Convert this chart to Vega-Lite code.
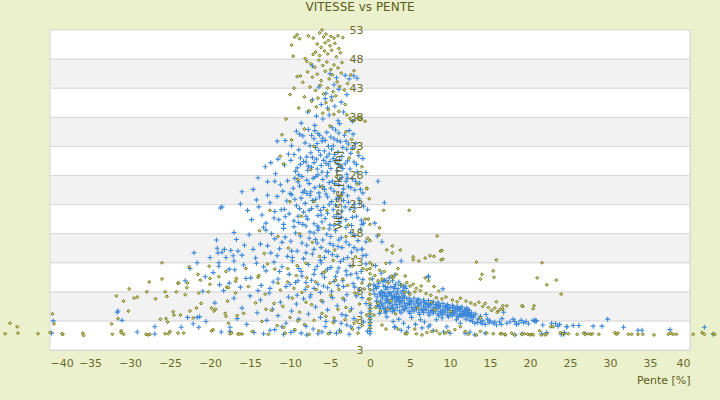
{
  "$schema": "https://vega.github.io/schema/vega-lite/v6.json",
  "width": 640,
  "height": 320,
  "autosize": {"type": "none"},
  "padding": {"left": 50, "top": 30, "right": 30, "bottom": 50},
  "background": "#ebf0cd",
  "title": {
    "text": "VITESSE vs PENTE",
    "fontSize": 12,
    "fontWeight": "normal",
    "color": "#5d5d20",
    "anchor": "middle",
    "frame": "group",
    "dx": -10,
    "baseline": "alphabetic",
    "offset": 1
  },
  "config": {
    "font": "DejaVu Sans",
    "view": {"stroke": "#d9d9d9", "fill": "#ffffff"},
    "axis": {
      "labelColor": "#6b6b2b",
      "titleColor": "#5d5d20",
      "labelFontSize": 11,
      "titleFontSize": 11,
      "titleFontWeight": "normal",
      "ticks": false,
      "domain": false,
      "grid": false,
      "labelOverlap": false
    }
  },
  "datasets": {
    "bands": [
      {"lo": -2, "hi": 3, "c": "w"}, {"lo": 3, "hi": 8, "c": "g"},
      {"lo": 8, "hi": 13, "c": "w"}, {"lo": 13, "hi": 18, "c": "g"},
      {"lo": 18, "hi": 23, "c": "w"}, {"lo": 23, "hi": 28, "c": "g"},
      {"lo": 28, "hi": 33, "c": "w"}, {"lo": 33, "hi": 38, "c": "g"},
      {"lo": 38, "hi": 43, "c": "w"}, {"lo": 43, "hi": 48, "c": "g"},
      {"lo": 48, "hi": 53, "c": "w"}
    ],
    "b": [
      {"p":-5.0,"v":45.5},{"p":-4.2,"v":44.8},{"p":-3.1,"v":45.2},{"p":-2.6,"v":44.6},{"p":-6.4,"v":43.2},{"p":-5.5,"v":42.1},{"p":-4.8,"v":41.5},{"p":-3.9,"v":42.8},{"p":-7.2,"v":41.0},{"p":-6.1,"v":40.2},
      {"p":-5.3,"v":39.6},{"p":-4.4,"v":39.9},{"p":-3.6,"v":40.6},{"p":-2.9,"v":41.9},{"p":-7.8,"v":38.9},{"p":-6.7,"v":38.2},{"p":-5.9,"v":37.7},{"p":-5.1,"v":38.4},{"p":-4.0,"v":37.4},{"p":-3.3,"v":38.9},
      {"p":-2.2,"v":37.3},{"p":-8.6,"v":37.0},{"p":-6.9,"v":36.6},{"p":-4.7,"v":36.2},{"p":-3.8,"v":36.9},{"p":-5.6,"v":41.2},{"p":-4.5,"v":43.6},{"p":-7.2,"v":46.8},{"p":-2.0,"v":45.1},{"p":-1.6,"v":44.7},
      {"p":-9.2,"v":35.6},{"p":-8.4,"v":34.8},{"p":-7.7,"v":35.9},{"p":-7.0,"v":34.3},{"p":-6.5,"v":35.2},{"p":-6.0,"v":33.9},{"p":-5.4,"v":35.4},{"p":-4.9,"v":34.6},{"p":-4.3,"v":35.8},{"p":-3.7,"v":33.8},
      {"p":-3.2,"v":34.9},{"p":-2.7,"v":33.4},{"p":-2.1,"v":35.1},{"p":-9.8,"v":33.1},{"p":-8.9,"v":32.4},{"p":-8.1,"v":33.6},{"p":-7.4,"v":31.9},{"p":-6.8,"v":32.8},{"p":-6.2,"v":31.5},{"p":-5.7,"v":32.2},
      {"p":-5.1,"v":31.7},{"p":-4.6,"v":33.1},{"p":-4.0,"v":32.0},{"p":-3.5,"v":31.3},{"p":-2.9,"v":32.5},{"p":-2.4,"v":31.8},{"p":-1.8,"v":33.5},{"p":-11.6,"v":33.9},{"p":-10.6,"v":34.0},{"p":-7.9,"v":31.2},
      {"p":-6.6,"v":33.5},{"p":-5.9,"v":34.4},{"p":-5.2,"v":33.0},{"p":-4.8,"v":32.5},{"p":-4.1,"v":34.0},{"p":-3.4,"v":32.8},{"p":-1.4,"v":31.4},{"p":-8.7,"v":31.0},{"p":-9.5,"v":31.6},{"p":-6.3,"v":34.9},
      {"p":-8.8,"v":35.1},{"p":-7.3,"v":34.9},{"p":-6.9,"v":35.7},{"p":-5.6,"v":34.0},{"p":-4.5,"v":34.3},{"p":-3.9,"v":35.3},{"p":-2.6,"v":35.7},{"p":-7.5,"v":33.1},{"p":-6.4,"v":32.3},{"p":-5.4,"v":31.2},
      {"p":-4.4,"v":31.6},{"p":-3.0,"v":33.9},{"p":-2.2,"v":32.7},{"p":-8.3,"v":30.4},{"p":-7.7,"v":29.6},{"p":-7.2,"v":31.1},{"p":-6.6,"v":29.1},{"p":-5.8,"v":30.6},{"p":-5.2,"v":29.8},{"p":-4.6,"v":30.9},
      {"p":-3.8,"v":30.7},{"p":-3.4,"v":29.2},{"p":-2.8,"v":30.5},{"p":-1.7,"v":29.9},{"p":-9.1,"v":29.3},{"p":-10.2,"v":31.7},
      {"p":-14.0,"v":27.6},{"p":-13.1,"v":29.5},{"p":-12.4,"v":30.2},{"p":-11.8,"v":28.3},{"p":-11.2,"v":26.4},{"p":-10.7,"v":29.8},{"p":-10.3,"v":27.1},{"p":-9.9,"v":30.6},{"p":-9.6,"v":25.8},{"p":-9.3,"v":28.7},
      {"p":-9.0,"v":26.9},{"p":-8.7,"v":29.9},{"p":-8.5,"v":27.8},{"p":-8.2,"v":25.4},{"p":-8.0,"v":30.3},{"p":-7.8,"v":28.9},{"p":-7.6,"v":26.6},{"p":-7.3,"v":29.4},{"p":-7.1,"v":27.5},{"p":-6.9,"v":25.9},
      {"p":-6.7,"v":30.8},{"p":-6.5,"v":28.1},{"p":-6.3,"v":26.2},{"p":-6.1,"v":29.7},{"p":-5.9,"v":27.3},{"p":-5.7,"v":25.6},{"p":-5.5,"v":30.1},{"p":-5.3,"v":28.5},{"p":-5.1,"v":26.8},{"p":-4.9,"v":29.2},
      {"p":-4.7,"v":27.0},{"p":-4.5,"v":25.3},{"p":-4.3,"v":30.5},{"p":-4.1,"v":28.8},{"p":-3.9,"v":26.4},{"p":-3.7,"v":29.6},{"p":-3.5,"v":27.7},{"p":-3.3,"v":25.7},{"p":-3.1,"v":30.0},{"p":-2.9,"v":28.2},
      {"p":-2.7,"v":26.1},{"p":-2.5,"v":29.1},{"p":-2.2,"v":27.4},{"p":-1.9,"v":25.5},{"p":-1.6,"v":28.6},{"p":-1.3,"v":26.7},{"p":-0.9,"v":30.9},{"p":-16.0,"v":25.2},{"p":-14.6,"v":25.6},{"p":-12.8,"v":26.9},
      {"p":-10.0,"v":24.9},{"p":-8.9,"v":28.1},{"p":-7.0,"v":30.2},{"p":-6.0,"v":28.6},{"p":-5.0,"v":30.4},{"p":-4.0,"v":29.9},{"p":-3.0,"v":27.0},{"p":-2.0,"v":30.3},{"p":-0.5,"v":28.5},{"p":-11.5,"v":30.8},
      {"p":-9.4,"v":27.5},{"p":-8.8,"v":26.2},{"p":-8.4,"v":25.1},{"p":-7.9,"v":27.2},{"p":-7.4,"v":25.2},{"p":-6.8,"v":27.8},{"p":-6.4,"v":25.0},{"p":-5.9,"v":26.1},{"p":-5.4,"v":27.9},{"p":-4.9,"v":25.8},
      {"p":-4.4,"v":26.6},{"p":-3.8,"v":27.3},{"p":-3.4,"v":25.0},{"p":-2.8,"v":27.5},{"p":-2.4,"v":25.9},{"p":-1.8,"v":27.0},{"p":-1.2,"v":25.6},{"p":-10.9,"v":25.3},{"p":-11.9,"v":27.0},{"p":-12.8,"v":24.6},
      {"p":-18.7,"v":22.4},{"p":-18.5,"v":22.6},{"p":-15.3,"v":22.0},{"p":-14.2,"v":23.8},{"p":-13.5,"v":21.2},{"p":-13.0,"v":19.8},{"p":-12.5,"v":23.3},{"p":-12.0,"v":20.7},{"p":-11.6,"v":24.4},{"p":-11.1,"v":22.1},
      {"p":-10.8,"v":19.6},{"p":-10.4,"v":23.6},{"p":-10.1,"v":21.4},{"p":-9.8,"v":24.7},{"p":-9.5,"v":20.2},{"p":-9.2,"v":22.8},{"p":-8.9,"v":19.9},{"p":-8.6,"v":24.1},{"p":-8.3,"v":21.7},{"p":-8.1,"v":23.2},
      {"p":-7.8,"v":20.5},{"p":-7.5,"v":24.6},{"p":-7.3,"v":22.3},{"p":-7.0,"v":19.7},{"p":-6.8,"v":23.9},{"p":-6.5,"v":21.1},{"p":-6.3,"v":24.3},{"p":-6.0,"v":20.0},{"p":-5.8,"v":22.5},{"p":-5.5,"v":24.8},
      {"p":-5.3,"v":21.5},{"p":-5.0,"v":19.5},{"p":-4.8,"v":23.5},{"p":-4.5,"v":20.9},{"p":-4.3,"v":22.9},{"p":-4.0,"v":24.2},{"p":-3.8,"v":19.8},{"p":-3.5,"v":21.9},{"p":-3.3,"v":23.7},{"p":-3.0,"v":20.4},
      {"p":-2.8,"v":24.5},{"p":-2.5,"v":22.2},{"p":-2.3,"v":19.4},{"p":-2.0,"v":23.0},{"p":-1.7,"v":21.0},{"p":-1.4,"v":24.0},{"p":-1.1,"v":20.3},{"p":-0.8,"v":22.7},{"p":-9.0,"v":21.0},{"p":-7.6,"v":22.0},
      {"p":-6.2,"v":22.0},{"p":-5.1,"v":23.0},{"p":-4.1,"v":21.3},{"p":-3.1,"v":22.6},{"p":-7.9,"v":24.9},{"p":-11.9,"v":21.8},{"p":-14.8,"v":20.4},{"p":-16.2,"v":23.1},{"p":-6.6,"v":19.3},{"p":-3.9,"v":20.6},
      {"p":-2.2,"v":20.8},{"p":-5.6,"v":20.6},{"p":-8.4,"v":19.6},{"p":-10.6,"v":20.9},{"p":-0.3,"v":22.1},{"p":-1.0,"v":19.6},
      {"p":-9.4,"v":23.9},{"p":-8.8,"v":22.3},{"p":-8.0,"v":21.0},{"p":-7.2,"v":23.7},{"p":-6.6,"v":22.7},{"p":-6.1,"v":21.2},{"p":-5.3,"v":24.3},{"p":-4.6,"v":22.1},{"p":-4.2,"v":23.9},{"p":-3.6,"v":20.8},
      {"p":-2.7,"v":23.4},{"p":-1.9,"v":22.4},{"p":-1.3,"v":23.2},{"p":-10.7,"v":22.2},{"p":-11.4,"v":20.4},{"p":-13.9,"v":22.6},
      {"p":-20.0,"v":13.9},{"p":-19.2,"v":16.9},{"p":-17.4,"v":15.1},{"p":-16.0,"v":14.3},{"p":-15.1,"v":17.8},{"p":-14.3,"v":13.8},{"p":-13.7,"v":16.2},{"p":-13.0,"v":18.6},{"p":-12.4,"v":14.7},{"p":-11.9,"v":17.1},
      {"p":-11.3,"v":15.4},{"p":-10.8,"v":18.9},{"p":-10.3,"v":14.1},{"p":-9.9,"v":16.7},{"p":-9.5,"v":19.2},{"p":-9.1,"v":15.0},{"p":-8.7,"v":17.6},{"p":-8.3,"v":13.7},{"p":-7.9,"v":16.0},{"p":-7.5,"v":18.3},
      {"p":-7.2,"v":14.5},{"p":-6.8,"v":17.0},{"p":-6.4,"v":19.0},{"p":-6.1,"v":15.6},{"p":-5.7,"v":13.9},{"p":-5.4,"v":17.9},{"p":-5.0,"v":16.3},{"p":-4.7,"v":14.4},{"p":-4.3,"v":18.5},{"p":-4.0,"v":15.8},
      {"p":-3.6,"v":17.3},{"p":-3.3,"v":13.6},{"p":-3.0,"v":19.1},{"p":-2.6,"v":16.1},{"p":-2.3,"v":14.8},{"p":-1.9,"v":17.7},{"p":-1.6,"v":15.2},{"p":-1.2,"v":18.8},{"p":-0.9,"v":14.2},{"p":-0.5,"v":16.6},
      {"p":-8.0,"v":19.3},{"p":-6.6,"v":16.4},{"p":-5.2,"v":14.9},{"p":-3.9,"v":16.9},{"p":-2.0,"v":15.6},{"p":-11.0,"v":16.5},{"p":-12.8,"v":15.9},{"p":-15.7,"v":16.0},{"p":-18.5,"v":14.8},{"p":-7.0,"v":18.1},
      {"p":-4.5,"v":19.4},{"p":-1.0,"v":15.3},{"p":-9.7,"v":13.9},{"p":-13.3,"v":19.1},{"p":-17.0,"v":18.2},
      {"p":-9.3,"v":18.1},{"p":-8.5,"v":16.4},{"p":-8.0,"v":14.7},{"p":-7.6,"v":17.2},{"p":-7.0,"v":15.3},{"p":-6.5,"v":18.6},{"p":-5.9,"v":16.9},{"p":-5.5,"v":15.0},{"p":-4.9,"v":17.5},{"p":-4.6,"v":16.0},
      {"p":-4.1,"v":14.1},{"p":-3.5,"v":15.6},{"p":-3.0,"v":16.6},{"p":-2.4,"v":18.2},{"p":-1.5,"v":16.8},{"p":-10.6,"v":17.4},{"p":-11.6,"v":14.2},{"p":-12.3,"v":18.0},{"p":-14.6,"v":15.3},{"p":-16.7,"v":17.0},
      {"p":-6.2,"v":13.4},{"p":-9.8,"v":15.0},{"p":-2.8,"v":13.9},{"p":-5.1,"v":18.8},
      {"p":-22.0,"v":14.7},{"p":-21.6,"v":13.0},{"p":-19.1,"v":15.5},{"p":-18.9,"v":12.4},{"p":-18.9,"v":13.0},{"p":-17.6,"v":11.9},{"p":-17.0,"v":13.3},{"p":-15.8,"v":12.6},{"p":-14.9,"v":10.4},{"p":-14.2,"v":12.9},
      {"p":-13.6,"v":9.1},{"p":-13.0,"v":11.6},{"p":-12.5,"v":8.6},{"p":-12.0,"v":13.1},{"p":-11.5,"v":10.2},{"p":-11.0,"v":12.3},{"p":-10.5,"v":8.9},{"p":-10.1,"v":11.0},{"p":-9.7,"v":13.3},{"p":-9.3,"v":9.6},
      {"p":-8.9,"v":12.0},{"p":-8.5,"v":10.7},{"p":-8.1,"v":8.4},{"p":-7.7,"v":12.7},{"p":-7.3,"v":10.0},{"p":-6.9,"v":11.8},{"p":-6.5,"v":9.3},{"p":-6.1,"v":13.0},{"p":-5.7,"v":10.5},{"p":-5.3,"v":8.7},
      {"p":-4.9,"v":12.2},{"p":-4.5,"v":9.8},{"p":-4.1,"v":11.4},{"p":-3.7,"v":13.2},{"p":-3.3,"v":8.9},{"p":-2.9,"v":10.9},{"p":-2.5,"v":12.5},{"p":-2.1,"v":9.4},{"p":-1.7,"v":11.2},{"p":-1.3,"v":8.3},
      {"p":-0.9,"v":10.1},{"p":-0.5,"v":12.8},{"p":-0.2,"v":9.0},{"p":-19.0,"v":14.7},{"p":-18.2,"v":15.3},{"p":-18.0,"v":13.9},{"p":-17.1,"v":14.2},{"p":-16.5,"v":15.0},{"p":-23.1,"v":9.9},{"p":-20.6,"v":10.6},
      {"p":-16.2,"v":8.8},{"p":-9.0,"v":9.9},{"p":-6.0,"v":11.1},{"p":-3.0,"v":11.6},{"p":-7.0,"v":8.6},{"p":-4.0,"v":9.1},
      {"p":-10.0,"v":9.3},{"p":-9.1,"v":7.4},{"p":-8.6,"v":11.5},{"p":-8.0,"v":9.6},{"p":-7.5,"v":7.1},{"p":-7.0,"v":11.0},{"p":-6.6,"v":12.4},{"p":-6.2,"v":7.9},{"p":-5.8,"v":9.0},{"p":-5.3,"v":11.9},
      {"p":-4.8,"v":8.1},{"p":-4.3,"v":10.6},{"p":-3.9,"v":12.1},{"p":-3.4,"v":9.9},{"p":-2.9,"v":7.5},{"p":-2.4,"v":11.0},{"p":-1.9,"v":8.8},{"p":-1.5,"v":10.4},{"p":-1.0,"v":7.0},{"p":-11.3,"v":11.5},
      {"p":-12.1,"v":9.7},{"p":-13.3,"v":12.3},{"p":-14.0,"v":8.2},{"p":-15.5,"v":10.3},{"p":-16.9,"v":11.8},{"p":-19.6,"v":11.3},{"p":-22.5,"v":12.0},
      {"p":-39.6,"v":3.0},{"p":-39.8,"v":0.9},{"p":-31.6,"v":4.5},{"p":-31.5,"v":4.7},{"p":-31.0,"v":3.1},{"p":-29.1,"v":1.1},{"p":-26.9,"v":2.0},{"p":-26.9,"v":0.75},{"p":-23.6,"v":1.9},{"p":-22.8,"v":3.6},
      {"p":-21.6,"v":3.6},{"p":-21.3,"v":3.7},{"p":-22.1,"v":2.5},{"p":-21.4,"v":1.9},{"p":-20.9,"v":8.1},{"p":-20.5,"v":2.9},{"p":-19.4,"v":6.1},{"p":-18.8,"v":9.2},{"p":-18.3,"v":8.2},{"p":-18.6,"v":1.1},
      {"p":-17.6,"v":9.5},{"p":-17.5,"v":1.9},{"p":-17.5,"v":1.2},{"p":-17.0,"v":6.9},{"p":-16.6,"v":3.4},{"p":-16.0,"v":5.2},{"p":-15.4,"v":2.4},{"p":-15.0,"v":7.3},{"p":-14.5,"v":1.0},{"p":-14.1,"v":4.4},
      {"p":-13.7,"v":6.6},{"p":-13.3,"v":0.8},{"p":-12.9,"v":3.1},{"p":-12.6,"v":7.8},{"p":-12.2,"v":5.0},{"p":-11.9,"v":1.5},{"p":-11.5,"v":3.9},{"p":-11.2,"v":6.2},{"p":-10.8,"v":0.7},{"p":-10.5,"v":2.6},
      {"p":-10.2,"v":7.1},{"p":-9.8,"v":4.7},{"p":-9.5,"v":1.3},{"p":-9.2,"v":5.9},{"p":-8.9,"v":3.3},{"p":-8.6,"v":0.9},{"p":-8.3,"v":6.8},{"p":-8.0,"v":2.1},{"p":-7.7,"v":4.2},{"p":-7.4,"v":7.5},
      {"p":-7.1,"v":1.6},{"p":-6.8,"v":5.4},{"p":-6.5,"v":0.8},{"p":-6.2,"v":3.6},{"p":-5.9,"v":6.3},{"p":-5.6,"v":2.0},{"p":-5.3,"v":4.9},{"p":-5.0,"v":1.0},{"p":-4.7,"v":7.0},{"p":-4.4,"v":3.0},
      {"p":-4.1,"v":5.6},{"p":-3.8,"v":1.4},{"p":-3.5,"v":4.1},{"p":-3.2,"v":6.6},{"p":-2.9,"v":2.3},{"p":-2.6,"v":0.7},{"p":-2.3,"v":5.1},{"p":-2.0,"v":3.4},{"p":-1.7,"v":7.3},{"p":-1.4,"v":1.8},
      {"p":-1.1,"v":4.4},{"p":-0.8,"v":2.8},{"p":-0.5,"v":6.0},{"p":-0.3,"v":1.2},{"p":-7.9,"v":0.6},{"p":-6.0,"v":1.1},{"p":-4.2,"v":0.9},{"p":-9.9,"v":1.0},{"p":-11.0,"v":2.0},{"p":-5.5,"v":2.9},
      {"p":-3.6,"v":2.6},{"p":-3.0,"v":3.9},{"p":-2.4,"v":2.0},{"p":-12.5,"v":1.4},
      {"p":0,"v":5.7},{"p":0,"v":5.2},{"p":0,"v":4.7},{"p":0,"v":4.2},{"p":0,"v":3.7},{"p":0,"v":3.2},{"p":0,"v":2.7},{"p":0,"v":2.2},{"p":0,"v":1.7},{"p":0,"v":1.2},{"p":0,"v":0.8},
      {"p":1.0,"v":27.0},{"p":-0.9,"v":25.0},{"p":1.8,"v":23.3},{"p":-0.8,"v":19.8},{"p":0.6,"v":19.8},{"p":1.5,"v":16.6},{"p":0.9,"v":17.6},{"p":-1.0,"v":15.3},{"p":2.5,"v":13.0},{"p":3.9,"v":13.3},
      {"p":7.3,"v":10.5},{"p":9.1,"v":8.5},{"p":2.4,"v":10.4},{"p":7.3,"v":10.7},{"p":-0.5,"v":14.3},{"p":-1.1,"v":11.5},{"p":0.3,"v":10.2},{"p":0.7,"v":12.5},{"p":1.4,"v":11.2},{"p":3.1,"v":10.9},{"p":2.0,"v":9.9},
      {"p":0.5,"v":9.2},{"p":0.8,"v":8.6},{"p":1.1,"v":9.5},{"p":1.4,"v":8.1},{"p":1.7,"v":9.0},{"p":2.0,"v":8.4},{"p":2.3,"v":9.6},{"p":2.6,"v":8.8},{"p":2.9,"v":8.0},{"p":3.2,"v":9.3},
      {"p":3.5,"v":8.5},{"p":3.8,"v":9.1},{"p":4.1,"v":8.2},{"p":0.6,"v":7.6},{"p":0.9,"v":7.1},{"p":1.2,"v":7.8},{"p":1.5,"v":7.3},{"p":1.8,"v":7.7},{"p":2.1,"v":7.2},{"p":2.4,"v":7.9},
      {"p":2.7,"v":7.4},{"p":3.0,"v":7.0},{"p":3.3,"v":7.6},{"p":3.6,"v":7.2},{"p":3.9,"v":7.8},{"p":4.2,"v":7.4},{"p":4.5,"v":8.6},{"p":4.8,"v":7.9},{"p":0.4,"v":8.3},{"p":1.0,"v":8.9},
      {"p":2.2,"v":8.7},{"p":3.4,"v":8.0},{"p":4.4,"v":9.0},{"p":1.6,"v":9.8},{"p":2.8,"v":9.9},{"p":3.1,"v":8.6},
      {"p":1.3,"v":5.1},{"p":1.3,"v":6.4},{"p":1.3,"v":7.5},{"p":1.6,"v":5.6},{"p":1.6,"v":6.9},{"p":1.9,"v":4.9},{"p":1.9,"v":6.1},{"p":1.9,"v":7.3},{"p":2.2,"v":5.4},{"p":2.2,"v":6.7},
      {"p":2.5,"v":5.0},{"p":2.5,"v":6.0},{"p":2.5,"v":7.4},{"p":2.8,"v":5.7},{"p":2.8,"v":6.8},{"p":3.1,"v":4.8},{"p":3.1,"v":6.3},{"p":3.1,"v":7.2},{"p":3.4,"v":5.3},{"p":3.4,"v":6.6},
      {"p":3.7,"v":4.7},{"p":3.7,"v":5.9},{"p":3.7,"v":7.0},{"p":4.0,"v":5.5},{"p":4.0,"v":6.5},{"p":4.3,"v":4.9},{"p":4.3,"v":6.1},{"p":4.3,"v":7.1},{"p":4.6,"v":5.2},{"p":4.6,"v":6.8},
      {"p":4.9,"v":4.6},{"p":4.9,"v":5.8},{"p":4.9,"v":6.9},{"p":5.2,"v":5.3},{"p":5.2,"v":6.4},{"p":5.5,"v":4.7},{"p":5.5,"v":5.9},{"p":5.5,"v":6.9},{"p":5.8,"v":5.1},{"p":5.8,"v":6.3},
      {"p":6.1,"v":4.5},{"p":6.1,"v":5.6},{"p":6.1,"v":6.7},{"p":6.4,"v":5.0},{"p":6.4,"v":6.2},{"p":6.7,"v":4.4},{"p":6.7,"v":5.5},{"p":6.7,"v":6.6},{"p":7.0,"v":4.9},{"p":7.0,"v":6.0},
      {"p":7.3,"v":4.4},{"p":7.3,"v":5.4},{"p":7.3,"v":6.5},{"p":7.6,"v":4.8},{"p":7.6,"v":5.9},{"p":7.9,"v":4.3},{"p":7.9,"v":5.3},{"p":7.9,"v":6.3},{"p":8.2,"v":4.7},{"p":8.2,"v":5.8},
      {"p":8.5,"v":4.2},{"p":8.5,"v":5.2},{"p":8.5,"v":6.2},{"p":8.8,"v":4.6},{"p":8.8,"v":5.6},{"p":9.1,"v":4.1},{"p":9.1,"v":5.0},{"p":9.1,"v":6.0},{"p":9.4,"v":4.5},{"p":9.4,"v":5.5},
      {"p":9.7,"v":4.0},{"p":9.7,"v":4.9},{"p":9.7,"v":5.8},{"p":10.0,"v":4.4},{"p":10.0,"v":5.3},{"p":10.3,"v":3.9},{"p":10.3,"v":4.8},{"p":10.3,"v":5.7},{"p":10.6,"v":4.3},{"p":10.6,"v":5.2},
      {"p":10.9,"v":3.9},{"p":10.9,"v":4.7},{"p":10.9,"v":5.5},{"p":11.2,"v":4.2},{"p":11.2,"v":5.0},{"p":11.5,"v":3.8},{"p":11.5,"v":4.6},{"p":11.5,"v":5.4},{"p":11.8,"v":4.1},{"p":11.8,"v":4.9},
      {"p":12.1,"v":3.8},{"p":12.1,"v":4.5},{"p":12.1,"v":5.2},{"p":12.4,"v":4.0},{"p":12.4,"v":4.8},{"p":12.7,"v":3.7},{"p":12.7,"v":4.4},{"p":13.0,"v":4.0},
      {"p":1.45,"v":5.9},{"p":2.05,"v":6.6},{"p":2.65,"v":5.3},{"p":3.25,"v":5.8},{"p":3.85,"v":6.3},{"p":4.45,"v":5.6},{"p":5.05,"v":6.2},{"p":5.65,"v":5.4},{"p":6.25,"v":5.9},{"p":6.85,"v":5.1},
      {"p":7.45,"v":5.7},{"p":8.05,"v":5.0},{"p":8.65,"v":5.4},{"p":9.25,"v":4.7},{"p":9.85,"v":5.2},{"p":10.45,"v":4.5},{"p":11.05,"v":5.1},{"p":11.65,"v":4.3},{"p":12.25,"v":4.9},
      {"p":1.15,"v":5.5},{"p":1.75,"v":5.2},{"p":2.35,"v":6.2},{"p":2.95,"v":5.1},{"p":3.55,"v":6.5},{"p":4.15,"v":5.0},{"p":4.75,"v":6.0},{"p":5.35,"v":4.9},{"p":5.95,"v":6.0},{"p":6.55,"v":4.8},
      {"p":7.15,"v":5.8},{"p":7.75,"v":4.6},{"p":8.35,"v":5.6},{"p":8.95,"v":4.4},{"p":9.55,"v":5.3},{"p":10.15,"v":4.2},{"p":10.75,"v":5.0},{"p":11.35,"v":4.0},{"p":11.95,"v":4.7},{"p":12.55,"v":4.1},
      {"p":1.6,"v":7.9},{"p":2.4,"v":7.7},{"p":3.3,"v":6.9},{"p":4.1,"v":6.9},{"p":5.0,"v":6.5},{"p":5.9,"v":6.6},{"p":6.8,"v":6.2},{"p":7.7,"v":6.1},{"p":8.6,"v":5.9},{"p":9.5,"v":5.6},
      {"p":10.4,"v":5.4},{"p":11.3,"v":5.2},{"p":12.2,"v":4.3},{"p":2.0,"v":4.6},{"p":2.8,"v":4.6},{"p":3.9,"v":4.4},{"p":5.0,"v":4.3},{"p":6.2,"v":4.1},{"p":7.4,"v":4.0},{"p":8.6,"v":3.9},
      {"p":9.8,"v":3.7},{"p":11.0,"v":3.6},{"p":4.2,"v":8.8},{"p":3.0,"v":8.9},{"p":1.9,"v":8.9},{"p":0.7,"v":8.9},{"p":1.8,"v":10.0},{"p":3.6,"v":9.7},{"p":0.8,"v":6.4},{"p":0.9,"v":5.6},
      {"p":1.9,"v":4.4},{"p":2.1,"v":3.7},{"p":2.9,"v":2.9},{"p":3.1,"v":2.0},{"p":4.2,"v":2.6},{"p":6.3,"v":3.2},{"p":7.5,"v":2.3},{"p":8.3,"v":3.2},{"p":9.6,"v":2.0},{"p":10.8,"v":3.2},
      {"p":11.3,"v":2.6},{"p":5.2,"v":3.6},{"p":6.8,"v":2.8},{"p":4.8,"v":1.9},{"p":9.0,"v":3.5},{"p":12.0,"v":3.3},{"p":1.2,"v":4.3},{"p":3.6,"v":3.3},{"p":5.7,"v":2.4},
      {"p":12.5,"v":3.1},{"p":13.1,"v":2.6},{"p":13.8,"v":2.8},{"p":14.4,"v":2.4},{"p":15.0,"v":3.0},{"p":15.4,"v":2.6},{"p":15.8,"v":2.3},{"p":17.1,"v":2.6},{"p":18.1,"v":2.9},{"p":18.3,"v":2.4},
      {"p":19.2,"v":2.7},{"p":20.4,"v":3.1},{"p":20.6,"v":2.9},{"p":20.7,"v":3.1},{"p":21.6,"v":2.3},{"p":22.7,"v":2.6},{"p":23.5,"v":2.1},{"p":24.6,"v":2.0},{"p":25.4,"v":2.2},{"p":26.1,"v":2.2},
      {"p":27.9,"v":2.1},{"p":29.0,"v":2.1},{"p":29.7,"v":3.3},{"p":31.7,"v":1.9},{"p":33.5,"v":1.4},{"p":34.0,"v":1.4},{"p":37.5,"v":1.5},{"p":41.8,"v":1.9},{"p":42.9,"v":0.7},{"p":23.9,"v":0.7},
      {"p":24.3,"v":1.0},{"p":24.6,"v":2.0},{"p":23.2,"v":2.5},{"p":23.7,"v":2.4},{"p":20.8,"v":3.0},{"p":18.9,"v":3.1},{"p":17.9,"v":3.3},{"p":16.7,"v":4.5},{"p":13.5,"v":3.3},{"p":14.1,"v":3.0},
      {"p":14.7,"v":3.3},{"p":16.2,"v":2.8},{"p":16.5,"v":3.4},{"p":19.8,"v":2.5},{"p":12.9,"v":3.6},{"p":11.7,"v":4.0},{"p":12.3,"v":3.9},{"p":13.2,"v":4.2},{"p":13.8,"v":3.8},{"p":14.5,"v":4.1},
      {"p":12.8,"v":2.9},{"p":13.4,"v":2.7},{"p":14.0,"v":2.5},{"p":14.9,"v":2.7},{"p":15.6,"v":2.8},{"p":16.4,"v":2.4},{"p":17.5,"v":2.8},{"p":18.6,"v":2.6},{"p":19.5,"v":2.9},
      {"p":3.1,"v":1.9},{"p":3.9,"v":1.4},{"p":4.6,"v":1.1},{"p":6.5,"v":1.8},{"p":7.3,"v":2.0},{"p":7.9,"v":1.3},{"p":9.2,"v":1.1},{"p":10.0,"v":0.9},{"p":11.9,"v":0.9},{"p":12.5,"v":1.1},
      {"p":13.1,"v":0.6},{"p":14.4,"v":0.9},{"p":18.1,"v":0.6},{"p":19.0,"v":0.8},{"p":21.5,"v":0.8},{"p":22.1,"v":1.0},{"p":24.2,"v":0.7},{"p":26.9,"v":0.8}
    ],
    "o": [
      {"p":-9.4,"v":51.8},{"p":-8.8,"v":51.5},{"p":-9.1,"v":52.2},{"p":-9.8,"v":50.4},{"p":-9.6,"v":48.5},{"p":-9.1,"v":45.0},{"p":-8.7,"v":45.1},{"p":-8.1,"v":48.1},{"p":-7.9,"v":47.6},{"p":-7.7,"v":52.0},
      {"p":-7.1,"v":51.6},{"p":-7.1,"v":48.8},{"p":-6.3,"v":52.5},{"p":-6.0,"v":53.0},{"p":-5.8,"v":51.8},{"p":-5.5,"v":52.3},{"p":-5.2,"v":51.2},{"p":-4.9,"v":51.9},{"p":-4.5,"v":51.6},{"p":-4.0,"v":52.0},
      {"p":-3.4,"v":51.7},{"p":-6.6,"v":50.6},{"p":-6.1,"v":50.0},{"p":-5.6,"v":50.8},{"p":-5.0,"v":50.3},{"p":-4.4,"v":50.7},{"p":-3.9,"v":49.8},{"p":-6.8,"v":49.2},{"p":-6.3,"v":48.6},{"p":-5.7,"v":49.4},
      {"p":-5.3,"v":48.9},{"p":-4.8,"v":49.5},{"p":-4.2,"v":48.4},{"p":-3.7,"v":49.1},{"p":-7.4,"v":47.2},{"p":-6.9,"v":46.6},{"p":-6.4,"v":47.8},{"p":-5.9,"v":46.9},{"p":-5.4,"v":47.5},{"p":-4.9,"v":46.2},
      {"p":-4.5,"v":47.0},{"p":-4.0,"v":46.5},{"p":-3.5,"v":47.4},{"p":-7.8,"v":45.8},{"p":-7.2,"v":44.9},{"p":-6.6,"v":45.4},{"p":-6.1,"v":44.3},{"p":-5.6,"v":45.9},{"p":-5.1,"v":44.6},{"p":-4.7,"v":45.3},
      {"p":-4.1,"v":44.1},{"p":-3.6,"v":45.6},{"p":-8.4,"v":44.0},{"p":-7.5,"v":43.2},{"p":-6.8,"v":42.6},{"p":-6.2,"v":43.5},{"p":-5.8,"v":42.0},{"p":-5.3,"v":43.0},{"p":-4.6,"v":42.4},{"p":-3.8,"v":43.3},
      {"p":-3.2,"v":42.7},{"p":-8.2,"v":41.5},{"p":-7.3,"v":40.8},{"p":-6.5,"v":41.3},{"p":-5.5,"v":40.5},{"p":-4.8,"v":40.9},{"p":-4.3,"v":41.7},{"p":-3.1,"v":40.2},{"p":-8.9,"v":39.6},{"p":-7.6,"v":39.1},
      {"p":-6.7,"v":39.8},{"p":-5.9,"v":38.7},{"p":-5.2,"v":39.3},{"p":-4.5,"v":38.5},{"p":-3.9,"v":39.0},{"p":-2.9,"v":38.4},{"p":-2.5,"v":37.8},{"p":-2.0,"v":37.4},{"p":-1.6,"v":37.9},{"p":-1.1,"v":37.6},
      {"p":-0.6,"v":37.3},{"p":-1.2,"v":38.0},{"p":-10.0,"v":41.9},{"p":-9.5,"v":43.0},{"p":-2.4,"v":45.3},{"p":-2.0,"v":46.0},{"p":-2.8,"v":43.8},{"p":-10.5,"v":37.7},{"p":-11.2,"v":31.3},
      {"p":-11.0,"v":35.0},{"p":-9.8,"v":34.1},{"p":-8.2,"v":36.0},{"p":-7.0,"v":33.0},{"p":-5.0,"v":36.5},{"p":-3.0,"v":35.5},{"p":-2.3,"v":34.2},{"p":-1.5,"v":32.0},{"p":-1.0,"v":29.5},{"p":-0.4,"v":25.8},
      {"p":-0.1,"v":24.0},{"p":-10.8,"v":30.0},{"p":-9.0,"v":27.3},{"p":-7.4,"v":29.0},{"p":-6.0,"v":26.0},{"p":-4.2,"v":27.8},{"p":-2.6,"v":31.0},{"p":-1.6,"v":26.5},{"p":-12.5,"v":22.0},{"p":-10.0,"v":23.5},
      {"p":-8.6,"v":21.0},{"p":-7.0,"v":23.5},{"p":-5.4,"v":22.0},{"p":-3.6,"v":24.5},{"p":-2.0,"v":21.8},{"p":-0.6,"v":20.5},{"p":-13.8,"v":18.5},{"p":-11.5,"v":17.5},{"p":-10.2,"v":15.5},{"p":-8.8,"v":18.0},
      {"p":-7.2,"v":16.5},{"p":-5.8,"v":18.9},{"p":-4.4,"v":15.2},{"p":-3.0,"v":17.5},{"p":-1.8,"v":14.0},{"p":-0.3,"v":17.2},{"p":-15.5,"v":12.0},{"p":-14.0,"v":10.5},{"p":-12.8,"v":12.8},{"p":-11.5,"v":9.5},
      {"p":-10.3,"v":12.0},{"p":-9.2,"v":10.8},{"p":-8.0,"v":12.9},{"p":-6.8,"v":9.7},{"p":-5.6,"v":11.5},{"p":-4.6,"v":13.4},{"p":-3.4,"v":10.2},{"p":-2.2,"v":12.4},{"p":-1.0,"v":9.5},{"p":-0.4,"v":11.8},
      {"p":-18.0,"v":11.5},{"p":-16.8,"v":9.8},{"p":-20.0,"v":10.3},{"p":-21.5,"v":11.0},{"p":-24.0,"v":9.5},{"p":-13.2,"v":14.6},{"p":-6.3,"v":14.1},{"p":-2.7,"v":19.5},{"p":-9.5,"v":8.6},{"p":-3.9,"v":8.4},
      {"p":-45.6,"v":0.8},{"p":-45.0,"v":2.6},{"p":-44.1,"v":2.0},{"p":-44.0,"v":0.9},{"p":-41.5,"v":0.8},{"p":-40.0,"v":1.0},{"p":-39.7,"v":4.2},{"p":-39.5,"v":2.5},{"p":-38.4,"v":0.7},{"p":-38.5,"v":0.8},
      {"p":-35.9,"v":0.9},{"p":-35.8,"v":0.5},{"p":-32.3,"v":2.5},{"p":-32.2,"v":0.7},{"p":-31.5,"v":3.4},{"p":-31.1,"v":1.3},{"p":-30.8,"v":0.7},{"p":-30.8,"v":6.4},{"p":-30.2,"v":4.7},{"p":-31.7,"v":7.3},
      {"p":-31.1,"v":1.0},{"p":-30.1,"v":8.5},{"p":-29.5,"v":6.9},{"p":-29.1,"v":7.1},{"p":-28.0,"v":0.7},{"p":-27.7,"v":0.6},{"p":-27.5,"v":0.7},{"p":-27.9,"v":8.0},{"p":-27.6,"v":9.7},{"p":-26.8,"v":6.8},
      {"p":-26.2,"v":3.3},{"p":-26.0,"v":13.0},{"p":-26.0,"v":10.2},{"p":-25.6,"v":8.0},{"p":-25.4,"v":7.2},{"p":-25.5,"v":3.4},{"p":-25.3,"v":2.8},{"p":-25.6,"v":0.8},{"p":-25.2,"v":0.8},{"p":-25.0,"v":1.2},
      {"p":-24.6,"v":4.6},{"p":-24.5,"v":4.0},{"p":-24.2,"v":8.0},{"p":-23.9,"v":9.5},{"p":-23.7,"v":4.0},{"p":-24.0,"v":0.9},{"p":-23.3,"v":0.9},{"p":-23.1,"v":7.5},{"p":-22.9,"v":8.7},{"p":-22.8,"v":9.5},
      {"p":-22.6,"v":12.3},{"p":-22.5,"v":4.7},{"p":-22.1,"v":3.5},{"p":-21.7,"v":5.2},{"p":-21.4,"v":7.8},{"p":-21.2,"v":10.0},{"p":-21.1,"v":6.0},{"p":-20.1,"v":12.4},{"p":-20.0,"v":9.3},{"p":-20.2,"v":8.0},
      {"p":-19.8,"v":1.3},{"p":-19.6,"v":1.5},{"p":-19.8,"v":5.2},{"p":-19.5,"v":4.7},{"p":-19.3,"v":5.0},{"p":-18.9,"v":10.6},{"p":-18.1,"v":4.3},{"p":-18.0,"v":3.8},{"p":-17.9,"v":8.8},{"p":-17.7,"v":8.7},
      {"p":-17.8,"v":6.4},{"p":-17.7,"v":2.6},{"p":-17.5,"v":0.8},{"p":-17.3,"v":0.9},{"p":-16.7,"v":10.3},{"p":-16.8,"v":7.8},{"p":-16.6,"v":3.9},{"p":-16.5,"v":0.75},{"p":-16.3,"v":0.75},{"p":-16.0,"v":0.75},
      {"p":-15.8,"v":4.3},{"p":-15.2,"v":8.9},{"p":-14.7,"v":1.2},{"p":-14.3,"v":6.1},{"p":-13.9,"v":10.8},{"p":-13.5,"v":2.9},{"p":-13.1,"v":7.6},{"p":-12.7,"v":0.7},{"p":-12.3,"v":4.8},{"p":-11.9,"v":11.9},
      {"p":-11.6,"v":2.2},{"p":-11.2,"v":8.3},{"p":-10.9,"v":5.5},{"p":-10.6,"v":0.9},{"p":-10.3,"v":9.7},{"p":-10.0,"v":3.6},{"p":-9.7,"v":6.9},{"p":-9.4,"v":1.5},{"p":-9.1,"v":12.5},{"p":-8.8,"v":4.5},
      {"p":-8.5,"v":7.9},{"p":-8.2,"v":2.4},{"p":-7.9,"v":10.4},{"p":-7.6,"v":0.7},{"p":-7.3,"v":5.8},{"p":-7.0,"v":3.1},{"p":-6.7,"v":8.4},{"p":-6.4,"v":1.3},{"p":-6.1,"v":6.5},{"p":-5.8,"v":11.3},
      {"p":-5.5,"v":3.8},{"p":-5.2,"v":0.8},{"p":-4.9,"v":7.4},{"p":-4.6,"v":2.7},{"p":-4.3,"v":10.0},{"p":-4.0,"v":5.0},{"p":-3.7,"v":1.1},{"p":-3.4,"v":6.9},{"p":-3.1,"v":3.2},{"p":-2.8,"v":9.1},
      {"p":-2.5,"v":4.7},{"p":-2.2,"v":1.6},{"p":-1.9,"v":7.8},{"p":-1.6,"v":3.0},{"p":-1.3,"v":5.9},{"p":-1.0,"v":2.2},{"p":-0.7,"v":8.5},{"p":-0.4,"v":4.0},{"p":-0.2,"v":6.7},{"p":-12.0,"v":6.0},
      {"p":-9.0,"v":3.0},{"p":-6.0,"v":4.3},{"p":-3.0,"v":5.3},{"p":-1.5,"v":0.9},{"p":-8.0,"v":6.2},{"p":-13.0,"v":5.0},{"p":-2.0,"v":2.6},{"p":-4.5,"v":3.5},{"p":-10.8,"v":1.9},{"p":-7.8,"v":8.9},
      {"p":-5.0,"v":9.5},{"p":-0.9,"v":12.0},
      {"p":0,"v":13.0},{"p":0,"v":12.0},{"p":0,"v":11.1},{"p":0,"v":10.2},{"p":0,"v":9.3},{"p":0,"v":8.4},{"p":0,"v":7.6},{"p":0,"v":6.8},{"p":0,"v":6.0},{"p":0,"v":5.1},
      {"p":0,"v":4.3},{"p":0,"v":3.4},{"p":0,"v":2.6},{"p":0,"v":1.8},{"p":0,"v":16.8},{"p":0,"v":19.6},
      {"p":-0.4,"v":25.7},{"p":1.7,"v":22.0},{"p":4.9,"v":22.0},{"p":8.4,"v":17.6},{"p":8.8,"v":15.0},{"p":9.0,"v":15.1},{"p":8.9,"v":13.5},{"p":2.8,"v":15.9},{"p":2.8,"v":14.7},{"p":2.1,"v":15.2},
      {"p":3.8,"v":15.2},{"p":1.2,"v":19.0},{"p":1.1,"v":17.8},{"p":-0.2,"v":20.5},{"p":5.4,"v":14.0},{"p":5.4,"v":13.5},{"p":6.1,"v":13.3},{"p":6.9,"v":13.8},{"p":7.5,"v":14.2},{"p":8.0,"v":14.1},
      {"p":9.1,"v":13.6},{"p":13.3,"v":13.1},{"p":15.8,"v":13.5},{"p":21.5,"v":13.0},{"p":14.0,"v":11.0},{"p":13.8,"v":10.2},{"p":15.4,"v":11.6},{"p":15.5,"v":10.5},{"p":20.9,"v":10.4},{"p":22.1,"v":9.2},
      {"p":23.3,"v":10.0},{"p":23.9,"v":7.6},{"p":19.1,"v":5.5},{"p":20.5,"v":5.6},{"p":20.4,"v":5.1},{"p":16.6,"v":5.6},{"p":16.6,"v":5.0},{"p":16.0,"v":4.6},{"p":16.3,"v":5.0},{"p":17.1,"v":5.6},
      {"p":19.0,"v":5.6},{"p":15.8,"v":6.3},{"p":13.8,"v":3.5},
      {"p":0.6,"v":10.8},{"p":1.2,"v":11.7},{"p":1.8,"v":11.5},{"p":2.7,"v":10.7},{"p":2.9,"v":10.4},{"p":3.3,"v":11.0},{"p":3.5,"v":12.0},{"p":4.4,"v":10.7},{"p":4.6,"v":9.6},{"p":5.0,"v":9.0},
      {"p":5.4,"v":9.3},{"p":6.9,"v":10.4},{"p":7.3,"v":9.9},{"p":1.0,"v":9.9},{"p":1.5,"v":10.2},{"p":2.3,"v":9.6},{"p":4.0,"v":9.2},{"p":5.8,"v":8.6},{"p":6.4,"v":9.0},{"p":8.0,"v":8.9},
      {"p":8.6,"v":8.1},{"p":0.3,"v":12.6},{"p":2.0,"v":12.9},
      {"p":4.4,"v":7.9},{"p":5.0,"v":7.6},{"p":5.6,"v":8.0},{"p":6.3,"v":8.2},{"p":7.0,"v":7.7},{"p":7.6,"v":7.4},{"p":8.3,"v":7.0},{"p":9.0,"v":6.8},{"p":9.5,"v":7.1},{"p":10.3,"v":6.6},
      {"p":10.9,"v":6.3},{"p":11.3,"v":6.9},{"p":12.0,"v":6.4},{"p":12.6,"v":6.1},{"p":13.1,"v":5.8},{"p":13.6,"v":6.2},{"p":14.1,"v":5.5},{"p":14.4,"v":6.0},{"p":14.8,"v":5.3},{"p":15.2,"v":4.8},
      {"p":15.6,"v":5.2},{"p":15.9,"v":4.5},{"p":1.0,"v":6.0},{"p":0.7,"v":5.3},{"p":1.3,"v":4.7},{"p":0.5,"v":4.0},{"p":2.2,"v":5.0},{"p":3.2,"v":4.2},{"p":6.0,"v":5.2},{"p":8.1,"v":4.9},
      {"p":10.1,"v":4.6},{"p":2.6,"v":6.5},{"p":7.7,"v":6.2},
      {"p":1.5,"v":2.3},{"p":2.0,"v":1.6},{"p":3.5,"v":1.6},{"p":4.4,"v":0.8},{"p":4.6,"v":0.8},{"p":5.6,"v":1.6},{"p":5.8,"v":0.8},{"p":6.5,"v":0.6},{"p":7.1,"v":1.0},{"p":7.7,"v":1.2},
      {"p":8.3,"v":1.3},{"p":8.7,"v":0.8},{"p":9.4,"v":0.9},{"p":9.8,"v":1.2},{"p":10.6,"v":1.5},{"p":11.3,"v":2.0},{"p":11.9,"v":1.2},{"p":12.3,"v":0.7},{"p":13.3,"v":0.6},{"p":13.8,"v":1.2},
      {"p":14.6,"v":0.9},{"p":15.4,"v":0.8},{"p":16.3,"v":0.8},{"p":16.9,"v":0.6},{"p":17.7,"v":0.9},{"p":18.1,"v":0.6},{"p":19.3,"v":0.8},{"p":19.7,"v":0.7},{"p":20.0,"v":0.6},{"p":21.4,"v":0.6},
      {"p":22.6,"v":2.0},{"p":23.8,"v":1.0},{"p":24.2,"v":0.8},{"p":26.7,"v":0.9},{"p":26.9,"v":0.7},{"p":28.6,"v":0.7},{"p":30.6,"v":1.0},{"p":30.8,"v":0.7},{"p":31.0,"v":0.9},{"p":32.3,"v":0.7},
      {"p":32.7,"v":0.7},{"p":33.5,"v":0.7},{"p":34.1,"v":0.7},{"p":35.5,"v":0.6},{"p":37.3,"v":0.7},{"p":37.6,"v":0.9},{"p":37.9,"v":0.7},{"p":38.3,"v":0.7},{"p":40.4,"v":0.7},{"p":41.5,"v":1.0},
      {"p":41.8,"v":0.7},{"p":42.9,"v":0.8},{"p":43.1,"v":0.7},{"p":16.5,"v":0.8},{"p":16.9,"v":0.7},{"p":19.0,"v":0.7},{"p":20.2,"v":0.7},{"p":20.4,"v":0.6},{"p":21.9,"v":0.6},{"p":22.1,"v":0.8},
      {"p":21.2,"v":1.3},{"p":22.9,"v":2.0},{"p":24.1,"v":0.8},{"p":24.8,"v":0.8},{"p":25.9,"v":0.7},{"p":27.3,"v":0.8},{"p":27.6,"v":0.7},{"p":27.8,"v":0.8}
    ]
  },
  "layer": [
    {
      "data": {"name": "bands"},
      "mark": {"type": "rect", "stroke": "#d9d9d9", "strokeWidth": 1},
      "encoding": {
        "y": {
          "field": "lo",
          "type": "quantitative",
          "title": "Vitesse [km/h]",
          "scale": {"domain": [-2, 53], "nice": false, "zero": false},
          "axis": {
            "values": [-2, 3, 8, 13, 18, 23, 28, 33, 38, 43, 48, 53],
            "tickCount": 20,
            "labelExpr": "datum.value < 0 ? '3' : datum.label",
            "labelOverlap": false,
            "offset": -320,
            "labelPadding": 7,
            "titlePadding": 6,
            "zindex": 1
          }
        },
        "y2": {"field": "hi"},
        "color": {
          "field": "c",
          "type": "nominal",
          "scale": {"domain": ["w", "g"], "range": ["#ffffff", "#f2f2f2"]},
          "legend": null
        }
      }
    },
    {
      "data": {"name": "b"},
      "mark": {
        "type": "point",
        "shape": "M-1,0H1M0,-1V1",
        "filled": false,
        "size": 25,
        "stroke": "#3b87d9",
        "strokeWidth": 1.1,
        "opacity": 1
      },
      "encoding": {
        "x": {
          "field": "p",
          "type": "quantitative",
          "title": "Pente [%]",
          "scale": {"domain": [-40, 40], "nice": false, "zero": false},
          "axis": {
            "values": [-40, -35, -30, -25, -20, -15, -10, -5, 0, 5, 10, 15, 20, 25, 30, 35, 40],
            "tickCount": 20,
            "labelOverlap": false,
            "labelPadding": 7,
            "titleAnchor": "end",
            "titlePadding": 6
          }
        },
        "y": {"field": "v", "type": "quantitative", "title": "Vitesse [km/h]"}
      }
    },
    {
      "data": {"name": "o"},
      "mark": {
        "type": "point",
        "shape": "diamond",
        "filled": true,
        "size": 10,
        "fill": "#cfd27a",
        "stroke": "#5a6000",
        "strokeWidth": 0.8,
        "opacity": 1
      },
      "encoding": {
        "x": {"field": "p", "type": "quantitative", "title": "Pente [%]"},
        "y": {"field": "v", "type": "quantitative", "title": "Vitesse [km/h]"}
      }
    },
    {
      "mark": {"type": "rule", "color": "#5f6a10", "strokeWidth": 1.5},
      "encoding": {"x": {"datum": 0, "type": "quantitative"}}
    }
  ]
}
